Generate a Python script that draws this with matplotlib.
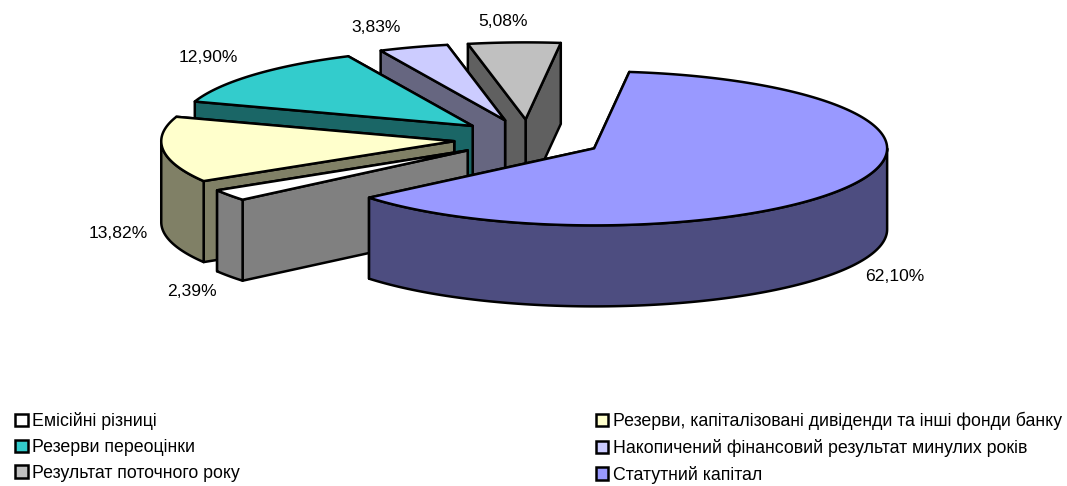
import numpy as np
import matplotlib
matplotlib.use("Agg")
import matplotlib.pyplot as plt
from matplotlib.patches import Patch, Polygon

plt.rcParams['font.family'] = ['Liberation Sans', 'DejaVu Sans']

# same order as the chart draws them, clockwise from the big slice
names = ["Статутний капітал", "Емісійні різниці",
         "Резерви, капіталізовані дивіденди та інші фонди банку",
         "Резерви переоцінки", "Накопичений фінансовий результат минулих років",
         "Результат поточного року"]
values = [62.10, 2.39, 13.82, 12.90, 3.83, 5.08]
top_colors = ["#9999FF", "#FFFFFF", "#FFFFCC", "#33CCCC", "#CCCCFF", "#C0C0C0"]
wall_colors = ["#4D4D80", "#808080", "#808066", "#1A6666", "#666680", "#606060"]
label_xy = [(895, 276), (192, 291), (118, 233), (208, 58), (376, 27), (503, 21)]
legend_order = [1, 3, 5, 2, 4, 0]

# pie geometry, pixels
cx, cy = 528.5, 139
rx, ry = 293, 77
depth = 81
explode = 0.255
start = 6.9

fig = plt.figure(figsize=(10.67, 4.86), dpi=100)
ax = fig.add_axes([0, 0, 1, 1])
ax.set_xlim(0, 1067)
ax.set_ylim(486, 0)
ax.axis("off")


def rim(x0, y0, a):
    a = np.radians(a)
    return x0 + rx * np.sin(a), y0 - ry * np.cos(a)


def face(xy, color, z):
    ax.add_patch(Polygon(xy, closed=True, fc=color, ec="black", lw=1.8, joinstyle="round", zorder=z))


shares = np.array(values) / np.sum(values) * 360
ends = start + np.cumsum(shares)
begins = ends - shares

# back slices first, the big one goes on top
for i in [5, 4, 3, 2, 1, 0]:
    a0, a1 = begins[i], ends[i]
    mid = (a0 + a1) / 2
    x0, y0 = rim(cx, cy, mid)
    x0 = cx + (x0 - cx) * explode
    y0 = cy + (y0 - cy) * explode
    z = (5 - i) * 10 + 1

    # radial walls, the one lower on screen last
    walls = sorted([a0, a1], key=lambda a: rim(x0, y0, a)[1])
    for n, a in enumerate(walls):
        x1, y1 = rim(x0, y0, a)
        face([(x0, y0), (x1, y1), (x1, y1 + depth), (x0, y0 + depth)], wall_colors[i], z + n)

    # outer wall, front half only
    w0, w1 = max(a0, 90), min(a1, 270)
    if w1 > w0:
        t = np.linspace(w0, w1, 120)
        xs, ys = rim(x0, y0, t)
        pts = np.vstack([np.column_stack([xs, ys]), np.column_stack([xs, ys + depth])[::-1]])
        face(pts, wall_colors[i], z + 3)

    t = np.linspace(a0, a1, 200)
    xs, ys = rim(x0, y0, t)
    face(np.vstack([[(x0, y0)], np.column_stack([xs, ys])]), top_colors[i], z + 4)

for v, (lx, ly) in zip(values, label_xy):
    ax.text(lx, ly, f"{v:.2f}%".replace(".", ","), ha="center", va="center", fontsize=12.6, color="black")

handles = [Patch(fc=top_colors[i], ec="black", lw=1.8, label=names[i]) for i in legend_order]
ax.legend(handles=handles, ncols=2, loc="lower left", bbox_to_anchor=(15 / 1067, 2 / 486),
          bbox_transform=fig.transFigure, frameon=False, fontsize=12.8,
          handlelength=0.72, handleheight=0.72, handletextpad=0.25,
          labelspacing=0.5, columnspacing=20, borderaxespad=0, borderpad=0)

fig.savefig("out.png", dpi=100)
